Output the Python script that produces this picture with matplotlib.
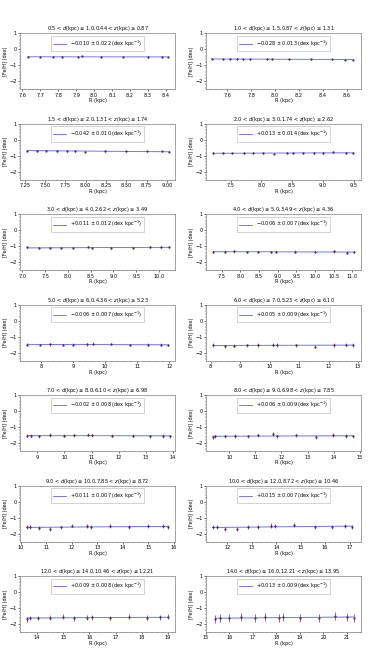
import numpy as np
import matplotlib
matplotlib.use("Agg")
import matplotlib.pyplot as plt
from matplotlib.ticker import AutoMinorLocator

# ---- data ----
d_lo = [0.5, 1.0, 1.5, 2.0, 3.0, 4.0, 5.0, 6.0, 7.0, 8.0, 9.0, 10.0, 12.0, 14.0]
d_hi = [1.0, 1.5, 2.0, 3.0, 4.0, 5.0, 6.0, 7.0, 8.0, 9.0, 10.0, 12.0, 14.0, 16.0]
z_lo = [0.44, 0.87, 1.31, 1.74, 2.62, 3.49, 4.36, 5.23, 6.10, 6.98, 7.85, 8.72, 10.46, 12.21]
z_hi = [0.87, 1.31, 1.74, 2.62, 3.49, 4.36, 5.23, 6.10, 6.98, 7.85, 8.72, 10.46, 12.21, 13.95]
slopes = [-0.010, -0.028, -0.042, 0.013, 0.011, -0.006, -0.006, 0.005, -0.002, 0.006, 0.011, 0.015, 0.009, 0.013]
slope_err = [0.022, 0.013, 0.010, 0.014, 0.012, 0.007, 0.007, 0.009, 0.008, 0.009, 0.007, 0.007, 0.008, 0.009]
xlims = [(7.587, 8.45), (7.42, 8.72), (7.19, 9.1), (7.10, 9.62), (6.95, 10.35), (7.08, 11.23),
         (7.34, 12.18), (7.84, 13.1), (8.36, 14.08), (9.11, 15.05), (9.96, 16.05), (11.13, 17.47),
         (13.35, 19.27), (15.0, 21.6)]

R_vals = [
    [7.63, 7.70, 7.77, 7.82, 7.91, 7.93, 8.04, 8.16, 8.30, 8.38, 8.41],
    [7.47, 7.56, 7.62, 7.68, 7.73, 7.79, 7.93, 7.97, 8.12, 8.30, 8.48, 8.59, 8.65],
    [7.28, 7.40, 7.51, 7.65, 7.77, 7.87, 7.99, 8.24, 8.50, 8.75, 8.94, 9.03],
    [7.22, 7.38, 7.52, 7.71, 7.87, 8.03, 8.20, 8.41, 8.52, 8.68, 8.85, 9.01, 9.17, 9.38, 9.49],
    [7.11, 7.36, 7.61, 7.86, 8.11, 8.45, 8.53, 8.95, 9.43, 9.80, 10.05, 10.22],
    [7.28, 7.59, 7.83, 8.19, 8.48, 8.81, 8.96, 9.47, 10.00, 10.50, 10.85, 11.03],
    [7.56, 7.98, 8.29, 8.67, 8.99, 9.44, 9.61, 10.19, 10.76, 11.33, 11.73, 11.96],
    [8.09, 8.49, 8.79, 9.24, 9.61, 10.10, 10.26, 10.89, 11.54, 12.18, 12.60, 12.83],
    [8.63, 8.75, 9.05, 9.48, 9.98, 10.35, 10.88, 11.00, 11.75, 12.53, 13.15, 13.65, 13.90],
    [9.36, 9.46, 9.83, 10.23, 10.73, 11.10, 11.68, 11.83, 12.55, 13.31, 13.97, 14.48, 14.74],
    [10.24, 10.37, 10.72, 11.15, 11.57, 11.99, 12.60, 12.75, 13.51, 14.26, 14.98, 15.57, 15.77],
    [11.40, 11.59, 11.90, 12.38, 12.86, 13.27, 13.77, 13.96, 14.72, 15.59, 16.30, 16.82, 17.12],
    [13.60, 13.75, 14.05, 14.50, 15.00, 15.40, 15.90, 16.10, 16.80, 17.50, 18.20, 18.70, 19.00],
    [15.40, 15.60, 16.00, 16.50, 17.10, 17.50, 18.10, 18.30, 19.00, 19.80, 20.50, 21.00, 21.30],
]
FeH_vals = [
    [-0.46, -0.50, -0.47, -0.48, -0.47, -0.45, -0.48, -0.47, -0.48, -0.49, -0.47],
    [-0.58, -0.62, -0.60, -0.61, -0.63, -0.62, -0.60, -0.62, -0.62, -0.64, -0.64, -0.65, -0.66],
    [-0.68, -0.70, -0.68, -0.70, -0.71, -0.70, -0.74, -0.73, -0.72, -0.73, -0.73, -0.74],
    [-0.82, -0.83, -0.86, -0.84, -0.83, -0.84, -0.87, -0.82, -0.83, -0.84, -0.83, -0.84, -0.78, -0.82, -0.84],
    [-1.08, -1.12, -1.10, -1.09, -1.12, -1.08, -1.10, -1.09, -1.10, -1.05, -1.08, -1.07],
    [-1.35, -1.34, -1.33, -1.36, -1.37, -1.37, -1.35, -1.34, -1.36, -1.33, -1.40, -1.36],
    [-1.50, -1.53, -1.48, -1.51, -1.50, -1.48, -1.44, -1.47, -1.52, -1.50, -1.50, -1.52],
    [-1.52, -1.60, -1.56, -1.54, -1.52, -1.51, -1.52, -1.55, -1.62, -1.52, -1.50, -1.52],
    [-1.53, -1.53, -1.58, -1.50, -1.53, -1.52, -1.48, -1.52, -1.55, -1.55, -1.58, -1.56, -1.57],
    [-1.65, -1.58, -1.58, -1.55, -1.58, -1.52, -1.42, -1.58, -1.52, -1.62, -1.50, -1.55, -1.58],
    [-1.60, -1.60, -1.65, -1.72, -1.62, -1.50, -1.55, -1.58, -1.52, -1.60, -1.55, -1.55, -1.58],
    [-1.60, -1.60, -1.70, -1.72, -1.58, -1.57, -1.50, -1.52, -1.48, -1.58, -1.57, -1.54, -1.58],
    [-1.70, -1.62, -1.62, -1.60, -1.55, -1.65, -1.60, -1.58, -1.62, -1.55, -1.60, -1.58, -1.55],
    [-1.70, -1.60, -1.65, -1.55, -1.62, -1.58, -1.60, -1.55, -1.62, -1.65, -1.52, -1.55, -1.60],
]
FeH_errs = [0.04, 0.04, 0.04, 0.05, 0.06, 0.07, 0.08, 0.10, 0.10, 0.11, 0.12, 0.13, 0.15, 0.25]

# ---- figure ----
fig, axes = plt.subplots(7, 2, figsize=(3.8, 6.65), dpi=100)
fig.subplots_adjust(left=0.0526, right=0.95, top=0.950, bottom=0.0496, hspace=0.616, wspace=0.2)
fs = 3.6

for i, ax in enumerate(axes.flat):
    R = np.array(R_vals[i])
    F = np.array(FeH_vals[i])
    e = np.full(len(R), FeH_errs[i])
    Rm = R.mean()
    Fm = F.mean()
    xx = np.linspace(R.min(), R.max(), 50)
    yy = Fm + slopes[i] * (xx - Rm)
    ylo = Fm + (slopes[i] - slope_err[i]) * (xx - Rm)
    yhi = Fm + (slopes[i] + slope_err[i]) * (xx - Rm)
    ax.fill_between(xx, np.minimum(ylo, yhi), np.maximum(ylo, yhi), color='#8080ff', alpha=0.25, lw=0)
    sgn = '+' if slopes[i] >= 0 else '\u2212'
    lab = '%s%.3f \u00b1 %.3f (dex kpc$^{-1}$)' % (sgn, abs(slopes[i]), slope_err[i])
    ax.plot(xx, yy, color='#6060ff', lw=0.6, label=lab)
    ax.errorbar(R, F, yerr=e, fmt='.', ms=1.2, color='#4a2a55', ecolor='#6a2a80', elinewidth=0.5, capsize=0)
    ax.set_xlim(*xlims[i])
    ax.set_ylim(-2.5, 1)
    ax.set_yticks([-2, -1, 0, 1])
    ax.xaxis.set_minor_locator(AutoMinorLocator())
    ax.yaxis.set_minor_locator(AutoMinorLocator())
    ax.tick_params(labelsize=fs, length=1.5, width=0.4, pad=1)
    ax.tick_params(which='minor', length=0.8, width=0.3)
    for s in ax.spines.values():
        s.set_linewidth(0.5)
        s.set_color('0.5')
    ax.set_title('%.1f < $d$(kpc) \u2264 %.1f,%.2f < $z$(kpc) \u2264 %.2f'
                 % (d_lo[i], d_hi[i], z_lo[i], z_hi[i]), fontsize=fs, pad=1.5)
    ax.set_xlabel('R (kpc)', fontsize=fs, labelpad=0.5)
    ax.set_ylabel('[Fe/H] (dex)', fontsize=fs, labelpad=0.5)
    ax.legend(loc='upper center', fontsize=fs, frameon=True, handlelength=2.5,
              borderpad=0.5, fancybox=False, edgecolor='0.7', framealpha=1).get_frame().set_linewidth(0.4)

fig.savefig('out.png', dpi=100)
